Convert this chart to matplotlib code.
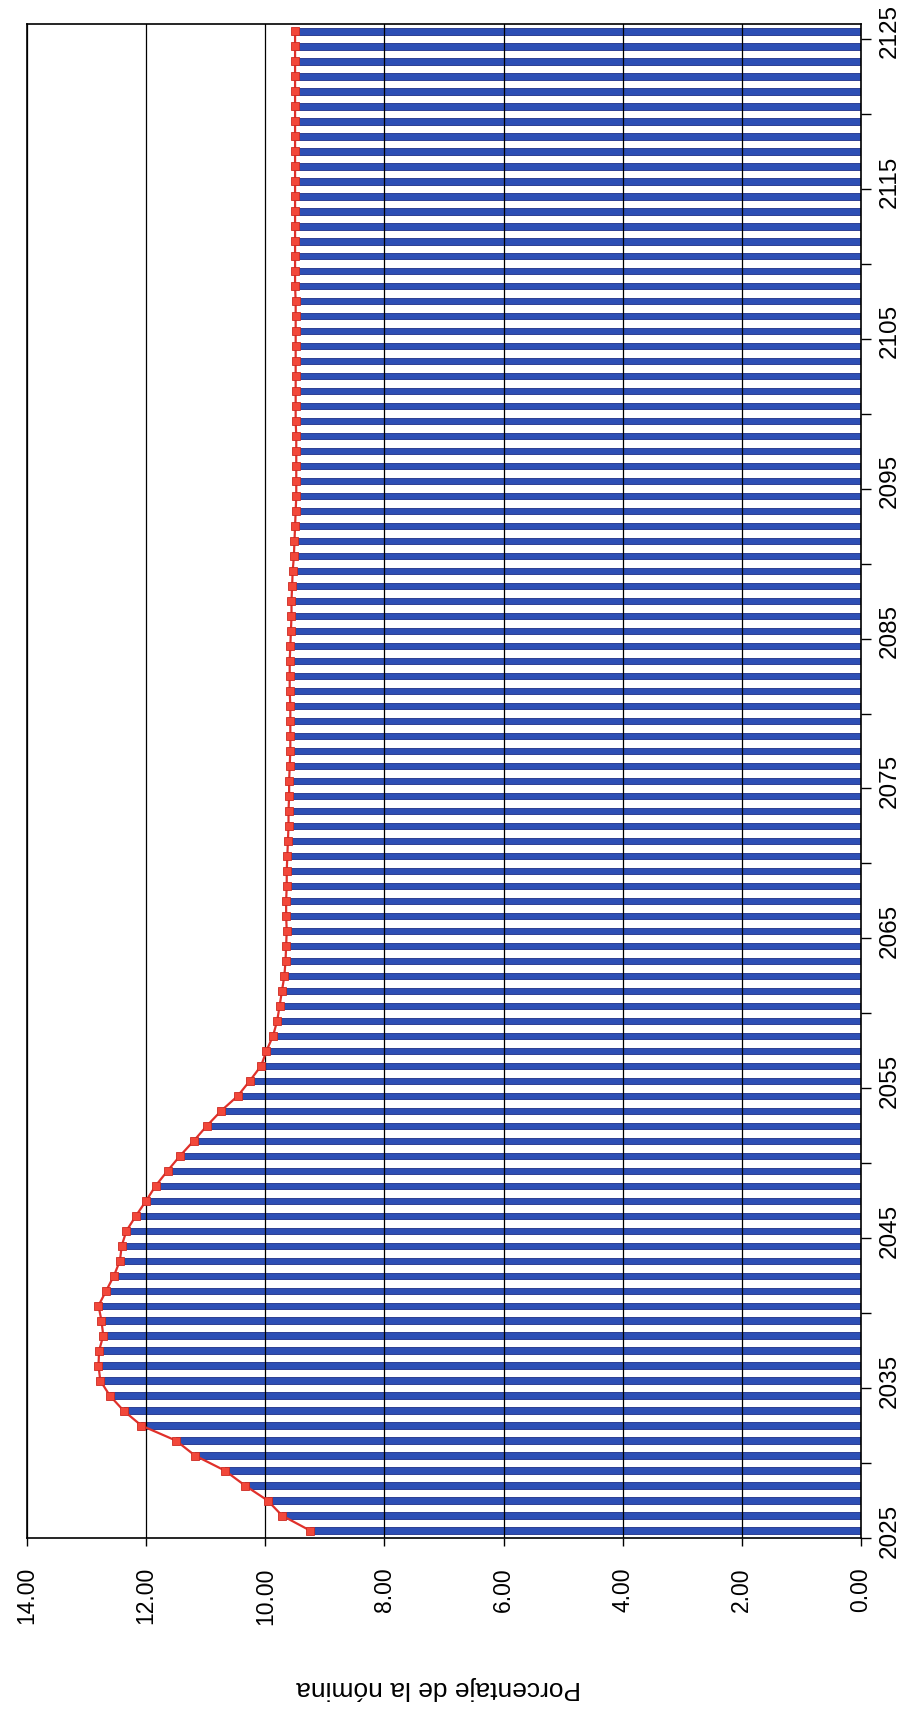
import matplotlib
matplotlib.use("Agg")
import matplotlib.pyplot as plt
import numpy as np

plt.rcParams['font.family'] = ['Liberation Sans', 'DejaVu Sans']

# years shown along the (rotated) category axis
years = list(range(2025, 2126))

# percentage of payroll, one value per year
pct_nomina = [
    9.25, 9.72, 9.96, 10.34, 10.68, 11.18, 11.50, 12.08, 12.38, 12.61,   # 2025-2034
    12.77, 12.80, 12.79, 12.72, 12.75, 12.80, 12.67, 12.54, 12.44, 12.41,  # 2035-2044
    12.33, 12.17, 12.00, 11.84, 11.64, 11.43, 11.20, 10.98, 10.74, 10.46,  # 2045-2054
    10.26, 10.07, 9.98, 9.87, 9.80, 9.76, 9.72, 9.68, 9.66, 9.65,        # 2055-2064
    9.64, 9.65, 9.65, 9.64, 9.64, 9.63, 9.62, 9.61, 9.61, 9.60,          # 2065-2074
    9.60, 9.59, 9.58, 9.58, 9.58, 9.58, 9.59, 9.59, 9.59, 9.58,          # 2075-2084
    9.57, 9.56, 9.56, 9.55, 9.54, 9.52, 9.51, 9.50, 9.49, 9.48,          # 2085-2094
    9.48, 9.48, 9.48, 9.48, 9.49, 9.49, 9.49, 9.49, 9.49, 9.49,          # 2095-2104
    9.49, 9.49, 9.49, 9.50, 9.50, 9.50, 9.50, 9.50, 9.50, 9.50,          # 2105-2114
    9.50, 9.50, 9.50, 9.50, 9.50, 9.50, 9.50, 9.50, 9.50, 9.50,          # 2115-2124
    9.50,                                                                # 2125
]

value_ticks = [0, 2, 4, 6, 8, 10, 12, 14]
year_tick_step = 5
year_label_step = 10
axis_label = "Porcentaje de la nómina"

fig = plt.figure(figsize=(9.14, 17.11), dpi=100)
ax = fig.add_axes([27 / 914, 1 - 1538 / 1711, (861 - 27) / 914, (1538 - 24) / 1711])

# the page is scanned rotated: categories run bottom->top, values right->left
pos = np.arange(len(years)) + 0.5
ax.barh(pos, pct_nomina, height=0.42, color='#2d4fb5', edgecolor='#1d2f88',
        linewidth=0.6, zorder=1)
ax.plot(pct_nomina, pos, color='#e0302a', lw=1.6, marker='s', ms=5.5,
        mfc='#f2473a', mec='#cc2a22', mew=0.6, zorder=3)

ax.set_xlim(14, 0)
ax.set_ylim(0, len(years))

ax.set_xticks(value_ticks)
ax.set_xticklabels([f"{v:.2f}" for v in value_ticks], rotation=90, fontsize=16.5)
ax.tick_params(axis='x', length=6, width=1, direction='out', pad=15)
ax.xaxis.grid(True, color='black', lw=0.9)

# tick marks at category boundaries every 5 years, labels every 10 centred on the bars
ax.set_yticks(list(range(0, len(years), year_tick_step)))
lab_idx = list(range(0, len(years), year_label_step))
ax.set_yticks([i + 0.5 for i in lab_idx], minor=True)
ax.set_yticklabels([str(years[i]) for i in lab_idx], minor=True, rotation=90, fontsize=17.5)
ax.yaxis.tick_right()
ax.tick_params(axis='y', which='major', length=7, width=1, direction='out',
               labelright=False, labelleft=False)
ax.tick_params(axis='y', which='minor', length=0, pad=13,
               labelright=True, labelleft=False)
for lab in ax.get_yticklabels(minor=True):
    lab.set_va('center')

for s in ax.spines.values():
    s.set_linewidth(1.2)

ax.set_xlabel(axis_label, rotation=180, fontsize=19, va='center')
ax.xaxis.set_label_coords(0.493, -0.099)

fig.savefig("out.png", dpi=100)
